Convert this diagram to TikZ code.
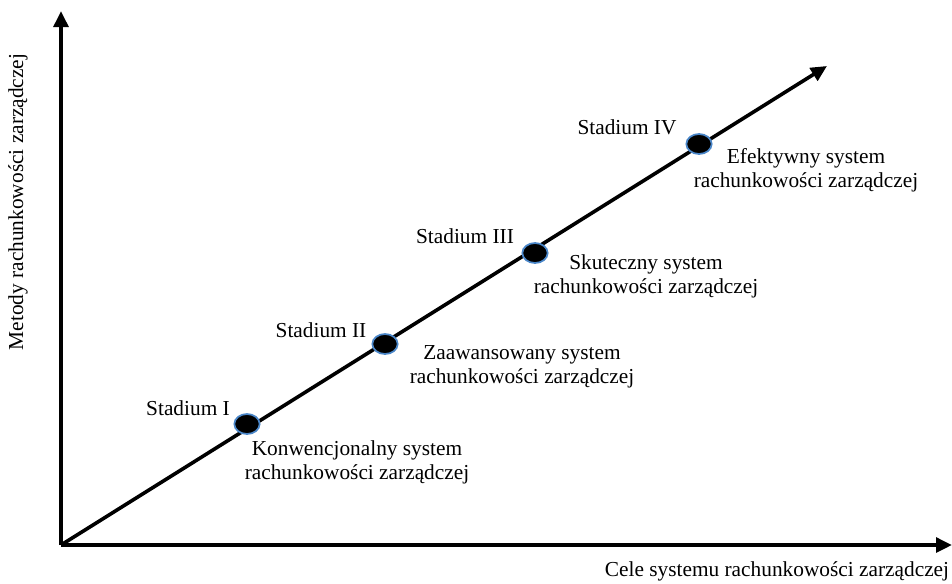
\documentclass[tikz,border=0pt]{standalone}
\usepackage{fontspec}
\setmainfont{Liberation Serif}
\usetikzlibrary{arrows.meta,shapes.geometric}
\definecolor{dotblue}{HTML}{4A86C8}
\tikzset{
  axis/.style={line width=2.7pt,-{Triangle[length=12pt,width=11pt]}},
  stage/.style={ellipse, fill=black, draw=dotblue, line width=1.3pt, minimum width=19pt, minimum height=15pt, inner sep=0pt},
  lbl/.style={font=\fontsize{16}{18}\selectfont, inner sep=0pt, align=center},
}
\begin{document}
\begin{tikzpicture}[x=0.75pt,y=-0.75pt]
\useasboundingbox (0,0) rectangle (952,583);
\coordinate (O) at (61,545);
\coordinate (Ytip) at (61,11);
\coordinate (Xtip) at (952,545);
\coordinate (Dtip) at (827,66);
\draw[axis] (O) -- (Ytip);
\draw[axis] (O) -- (Xtip);
\draw[axis] (O) -- (Dtip);
\node[stage] (s1) at (247,424) {};
\node[stage] (s2) at (385,344) {};
\node[stage] (s3) at (535,253) {};
\node[stage] (s4) at (699,144) {};
\node[lbl] (t1) at (188,408) {Stadium I};
\node[lbl] (t2) at (321,330) {Stadium II};
\node[lbl] (t3) at (465,236) {Stadium III};
\node[lbl] (t4) at (627,127) {Stadium IV};
\node[lbl] (d1) at (357,462) {Konwencjonalny system\\rachunkowości zarządczej};
\node[lbl] (d2) at (522,367) {Zaawansowany system\\rachunkowości zarządczej};
\node[lbl] (d3) at (646,276) {Skuteczny system\\rachunkowości zarządczej};
\node[lbl] (d4) at (806,170) {Efektywny system\\rachunkowości zarządczej};
\node[lbl] (xl) at (777,571) {Cele systemu rachunkowości zarządczej};
\node[lbl, rotate=90] (yl) at (18,202) {Metody rachunkowości zarządczej};
\end{tikzpicture}
\end{document}
